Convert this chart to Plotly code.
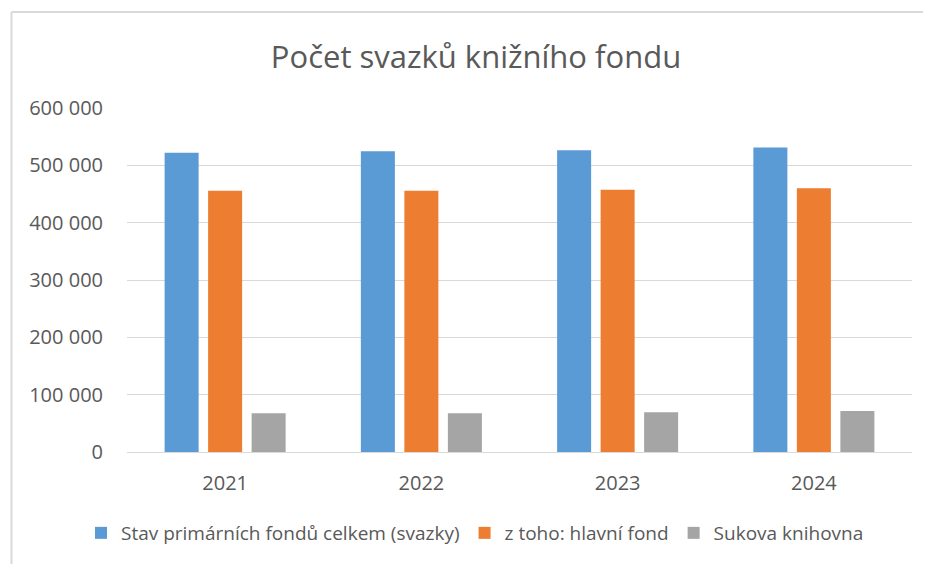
import plotly.graph_objects as go

years = ["2021", "2022", "2023", "2024"]
series_names = ["Stav primárních fondů celkem (svazky)", "z toho: hlavní fond", "Sukova knihovna"]
stav_celkem = [522000, 524500, 526500, 531000]
hlavni_fond = [455500, 455500, 457500, 460000]
sukova = [67500, 67500, 69500, 71500]
colors = ["#5B9BD5", "#ED7D31", "#A5A5A5"]
y_ticks = [0, 100000, 200000, 300000, 400000, 500000, 600000]

FONT = "Open Sans"
TXT = "#595959"

W, H = 923, 556
L, R, T, B = 119, 19, 100, 112
PW, PH = W - L - R, H - T - B


def px(x):
    return (x - L) / PW


def py(y):
    return (H - B - y) / PH


fig = go.Figure()
for name, vals, col in zip(series_names, [stav_celkem, hlavni_fond, sukova], colors):
    fig.add_trace(go.Bar(x=years, y=vals, name=name, marker=dict(color=col, line=dict(width=0))))

fig.update_layout(
    width=W, height=H,
    paper_bgcolor="white", plot_bgcolor="white",
    margin=dict(l=L, r=R, t=T, b=B, autoexpand=False),
    barmode="group", bargap=0.335, bargroupgap=0.218,
    separators=", ",
    font=dict(family=FONT, color=TXT, size=20),
    title=dict(text="Počet svazků knižního fondu", x=468/W, xanchor="center",
               y=1-49/H, yanchor="middle", xref="container", yref="container",
               font=dict(family=FONT, size=31, color=TXT)),
    legend=dict(orientation="h", xref="container", yref="container",
                x=467/W, xanchor="center", y=1-525/H, yanchor="middle",
                font=dict(family=FONT, size=19, color=TXT), itemwidth=30,
                traceorder="normal"),
    xaxis=dict(showgrid=False, showline=True, linecolor="#D9D9D9", linewidth=1,
               ticks="", tickfont=dict(size=20, color=TXT), ticklabelstandoff=13),
    yaxis=dict(range=[0, 600000], tickvals=y_ticks, tickformat=",d",
               showgrid=True, gridcolor="#D9D9D9", gridwidth=1, zeroline=False,
               showline=False, ticks="", tickfont=dict(size=20, color=TXT),
               ticklabelstandoff=23),
    shapes=[
        dict(type="line", xref="paper", yref="paper",
             x0=px(3.5), x1=px(W + 2), y0=py(4), y1=py(4),
             line=dict(color="#D9D9D9", width=2)),
        dict(type="line", xref="paper", yref="paper",
             x0=px(3.5), x1=px(3.5), y0=py(4), y1=py(H + 10),
             line=dict(color="#D9D9D9", width=2)),
    ],
)

fig.write_html("out.html")
